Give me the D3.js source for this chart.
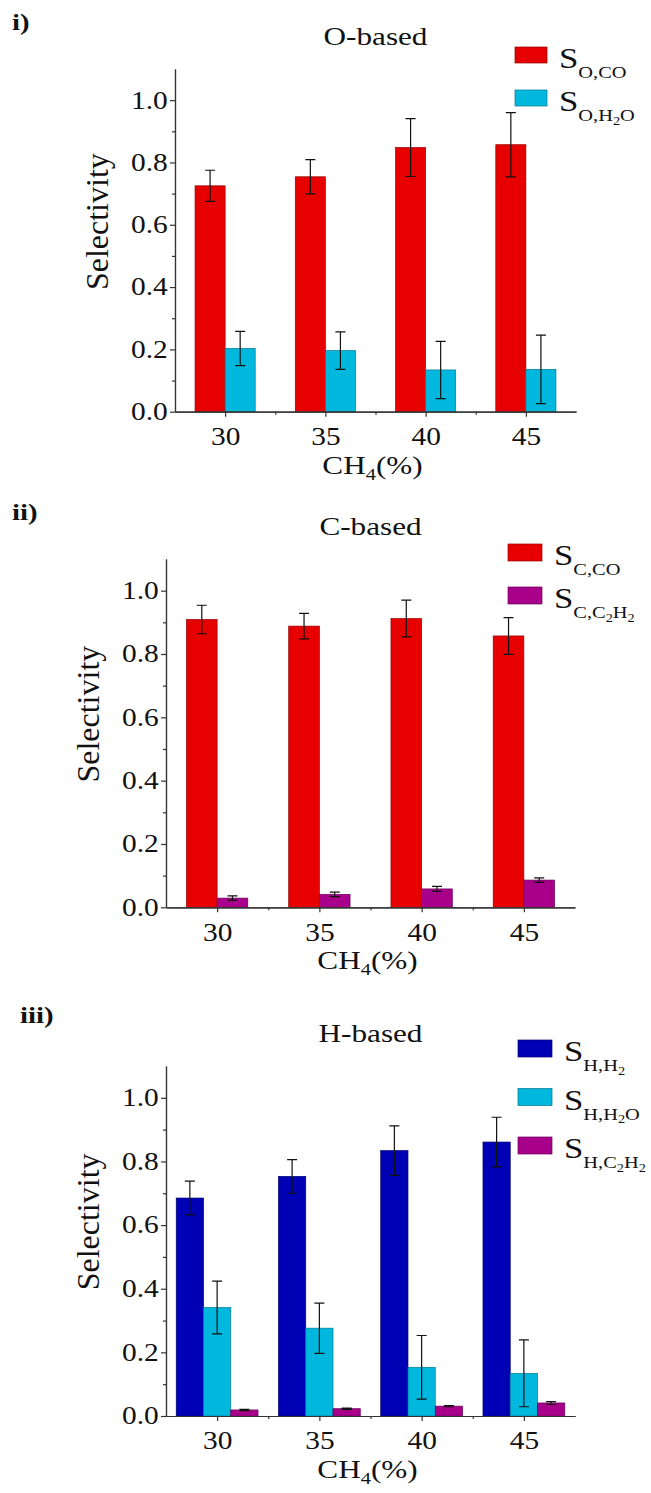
<!DOCTYPE html>
<html>
<head>
<meta charset="utf-8">
<script src="https://cdn.jsdelivr.net/npm/d3@7"></script>
<style>
  body { margin: 0; background: #fff; }
  text { font-family: "Liberation Serif", "Times New Roman", serif; fill: #111; }
</style>
</head>
<body>
<div id="chart"></div>
<script>
// categories and tick labels
var categories = [30, 35, 40, 45];
var yTicks = [0, 0.2, 0.4, 0.6, 0.8, 1.0];
var yMinor = [0.1, 0.3, 0.5, 0.7, 0.9];
var xMinor = [32.5, 37.5, 42.5];

// i) O-based
var oCO = [0.725, 0.754, 0.848, 0.857];
var oCOErr = [0.050, 0.055, 0.093, 0.103];
var oH2O = [0.203, 0.196, 0.134, 0.136];
var oH2OErr = [0.055, 0.060, 0.092, 0.110];

// ii) C-based
var cCO = [0.909, 0.888, 0.912, 0.857];
var cCOErr = [0.045, 0.040, 0.058, 0.058];
var cC2H2 = [0.029, 0.041, 0.058, 0.086];
var cC2H2Err = [0.007, 0.007, 0.008, 0.007];

// iii) H-based
var hH2 = [0.685, 0.753, 0.834, 0.861];
var hH2Err = [0.053, 0.053, 0.078, 0.078];
var hH2O = [0.341, 0.276, 0.153, 0.134];
var hH2OErr = [0.083, 0.079, 0.100, 0.105];
var hC2H2 = [0.019, 0.023, 0.031, 0.041];
var hC2H2Err = [0.002, 0.002, 0.002, 0.004];

var RED = "#e60000", CYAN = "#00b8de", PURPLE = "#a8008a", BLUE = "#0000b4";
var SX = 1.2; // the original figure is stretched sideways

var panels = [
    {
        tag: "i)", tagX: 12, tagY: 30, title: "O-based",
        top: 69, bottom: 411.7, left: 175, right: 576,
        legend: {x: 515, y: 47, step: 43, w: 32, h: 16},
        series: [
            {values: oCO, err: oCOErr, color: RED, label: [["S", 0], ["O,CO", 1]]},
            {values: oH2O, err: oH2OErr, color: CYAN, label: [["S", 0], ["O,H", 1], ["2", 2], ["O", 1]]}
        ]
    },
    {
        tag: "ii)", tagX: 12, tagY: 520, title: "C-based",
        top: 559, bottom: 907.3, left: 166, right: 575,
        legend: {x: 508, y: 544, step: 43, w: 34, h: 17},
        series: [
            {values: cCO, err: cCOErr, color: RED, label: [["S", 0], ["C,CO", 1]]},
            {values: cC2H2, err: cC2H2Err, color: PURPLE, label: [["S", 0], ["C,C", 1], ["2", 2], ["H", 1], ["2", 2]]}
        ]
    },
    {
        tag: "iii)", tagX: 20, tagY: 1023, title: "H-based",
        top: 1066, bottom: 1416, left: 166, right: 575,
        legend: {x: 518, y: 1040, step: 48.5, w: 34, h: 17},
        series: [
            {values: hH2, err: hH2Err, color: BLUE, label: [["S", 0], ["H,H", 1], ["2", 2]]},
            {values: hH2O, err: hH2OErr, color: CYAN, label: [["S", 0], ["H,H", 1], ["2", 2], ["O", 1]]},
            {values: hC2H2, err: hC2H2Err, color: PURPLE, label: [["S", 0], ["H,C", 1], ["2", 2], ["H", 1], ["2", 2]]}
        ]
    }
];

var svg = d3.select("#chart").append("svg")
    .attr("width", 651)
    .attr("height", 1493);

svg.append("rect").attr("width", 651).attr("height", 1493).attr("fill", "#fff");

function stext(g, x, y, str, size, anchor) {
    return g.append("text")
        .attr("transform", `translate(${x},${y}) scale(${SX},1)`)
        .attr("text-anchor", anchor || "start")
        .style("font-size", size + "px")
        .text(str);
}

var levelSize = [29, 17, 12], levelShift = [0, 10, 14];

panels.forEach(p => {
    var g = svg.append("g");
    var x = d3.scaleLinear().domain([27.5, 47.5]).range([p.left, p.right]);
    var y = d3.scaleLinear().domain([0, 1.1]).range([p.bottom, p.top]);

    var n = p.series.length;
    var bw = n == 2 ? 1.5 : 4 / 3; // bar width in x units
    var start = n == 2 ? -1.5 : -2;

    // bars
    p.series.forEach((s, si) => {
        var grp = g.append("g");
        grp.selectAll("rect")
            .data(categories)
            .enter().append("rect")
            .attr("x", (c) => x(c + start + si * bw))
            .attr("width", x(bw) - x(0))
            .attr("y", (c, i) => y(s.values[i]))
            .attr("height", (c, i) => y(0) - y(s.values[i]))
            .attr("fill", s.color)
            .attr("stroke", d3.color(s.color).darker(1.2))
            .attr("stroke-width", 0.7);

        // error bars
        var cx = (c) => x(c + start + (si + 0.5) * bw);
        grp.selectAll(".err")
            .data(categories)
            .enter().append("path")
            .attr("class", "err")
            .attr("fill", "none")
            .attr("stroke", "#111")
            .attr("stroke-width", 1.2)
            .attr("d", (c, i) => {
                var hi = y(s.values[i] + s.err[i]), lo = y(s.values[i] - s.err[i]), xc = cx(c);
                return `M${xc},${hi}V${lo}M${xc - 5},${hi}H${xc + 5}M${xc - 5},${lo}H${xc + 5}`;
            });
    });

    // axes
    var xAxis = g.append("g")
        .attr("transform", `translate(0,${p.bottom})`)
        .call(d3.axisBottom(x).tickValues(categories).tickSize(5).tickPadding(11).tickSizeOuter(0));
    g.append("g")
        .attr("transform", `translate(0,${p.bottom})`)
        .call(d3.axisBottom(x).tickValues(xMinor).tickSize(3).tickFormat("").tickSizeOuter(0));
    var yAxis = g.append("g")
        .attr("transform", `translate(${p.left},0)`)
        .call(d3.axisLeft(y).tickValues(yTicks).tickFormat(d3.format(".1f")).tickSize(5).tickPadding(1).tickSizeOuter(0));
    g.append("g")
        .attr("transform", `translate(${p.left},0)`)
        .call(d3.axisLeft(y).tickValues(yMinor).tickSize(3).tickFormat("").tickSizeOuter(0));

    g.selectAll(".domain, .tick line").attr("stroke", "#333").attr("stroke-width", 1.2);
    [xAxis, yAxis].forEach(a => a.selectAll("text")
        .attr("transform", `scale(${SX},1)`)
        .style("font-family", '"Liberation Serif", serif')
        .style("font-size", "24.5px")
        .attr("fill", "#111"));

    // titles
    stext(g, (p.left + p.right) / 2, p.top - 24, p.title, 26, "middle");
    stext(g, p.tagX, p.tagY, p.tag, 24, "start").style("font-weight", "bold");

    var xl = stext(g, (p.left + p.right) / 2 - 3, p.bottom + 62, "CH", 26, "middle");
    xl.append("tspan").attr("dy", 6).style("font-size", "17px").text("4");
    xl.append("tspan").attr("dy", -6).text("(%)");

    g.append("text")
        .attr("transform", `translate(${p.left - 78},${y(0.61)}) rotate(-90)`)
        .attr("text-anchor", "middle")
        .attr("dy", "0.33em")
        .style("font-size", "32px")
        .text("Selectivity");

    // legend
    p.series.forEach((s, si) => {
        var ly = p.legend.y + si * p.legend.step;
        g.append("rect")
            .attr("x", p.legend.x).attr("y", ly)
            .attr("width", p.legend.w).attr("height", p.legend.h)
            .attr("fill", s.color)
            .attr("stroke", d3.color(s.color).darker(1.2))
            .attr("stroke-width", 0.7);
        var t = stext(g, p.legend.x + p.legend.w + 12, ly + 21, "", 29, "start");
        var lvl = 0;
        s.label.forEach(part => {
            t.append("tspan")
                .attr("dy", levelShift[part[1]] - levelShift[lvl])
                .style("font-size", levelSize[part[1]] + "px")
                .text(part[0]);
            lvl = part[1];
        });
    });
});
</script>
</body>
</html>
